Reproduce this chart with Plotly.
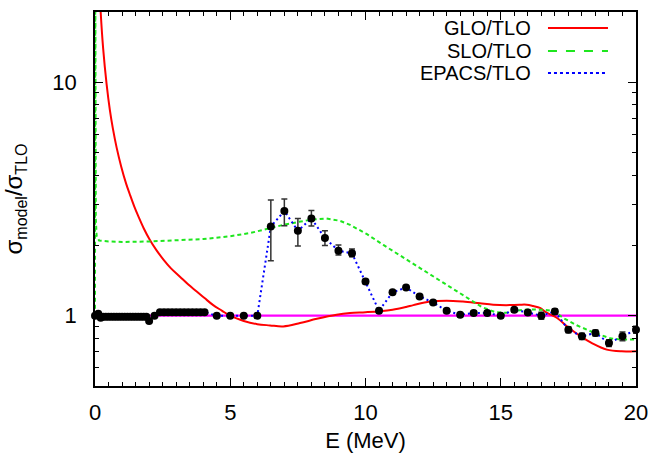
import math
import plotly.graph_objects as go

# ---------------- data ----------------
pts_E = [0.0, 0.12, 0.21, 0.3, 0.4, 0.5, 0.6, 0.7, 0.8, 0.9, 1.0, 1.1, 1.2, 1.3, 1.4, 1.5,
         1.6, 1.7, 1.8, 1.9, 2.0, 2.2, 2.4, 2.55, 2.7, 2.85, 3.0, 3.15, 3.3, 3.45, 3.6,
         3.75, 3.9, 4.05, 4.5, 5.0, 5.5, 6.0, 6.5, 7.0, 7.5, 8.0, 8.5, 9.0, 9.5, 10.0,
         10.5, 11.0, 11.5, 12.0, 12.5, 13.0, 13.5, 14.0, 14.5, 15.0, 15.5, 16.0, 16.5,
         17.0, 17.5, 18.0, 18.5, 19.0, 19.5, 20.0]
pts_R = [1.0, 1.02, 0.98, 0.99, 0.99, 0.99, 0.99, 0.99, 0.99, 0.99, 0.99, 0.99, 0.99, 0.99, 0.99, 0.99,
         0.99, 0.99, 0.99, 0.99, 0.95, 1.0, 1.035, 1.035, 1.035, 1.035, 1.035, 1.035, 1.035, 1.035, 1.035,
         1.035, 1.035, 1.035, 1.0, 1.0, 1.0, 1.0, 2.41, 2.81, 2.31, 2.61, 2.15, 1.90, 1.85, 1.40,
         1.05, 1.26, 1.32, 1.21, 1.14, 1.05, 1.01, 1.027, 1.027, 1.0, 1.06, 1.033, 1.0,
         1.043, 0.871, 0.816, 0.844, 0.764, 0.816, 0.871]
err_up = [0] * 38 + [0.72, 0.35, 0.30, 0.21, 0.16, 0.11, 0.08, 0.03,
                     0.02, 0.02, 0.02, 0.02, 0.02, 0.02, 0.02, 0.02, 0.02, 0.02, 0.02, 0.02, 0.035,
                     0.025, 0.025, 0.025, 0.025, 0.025, 0.035, 0.03]
err_dn = [0] * 38 + [0.69, 0.38, 0.32, 0.19, 0.15, 0.08, 0.06, 0.03,
                     0.02, 0.02, 0.02, 0.02, 0.02, 0.02, 0.02, 0.02, 0.02, 0.02, 0.02, 0.02, 0.035,
                     0.025, 0.025, 0.025, 0.025, 0.025, 0.035, 0.03]

glo_E = [0.15, 0.21, 0.3, 0.43, 0.55, 0.66, 0.8, 0.97, 1.15, 1.28, 1.45, 1.6, 1.8, 2.03,
         2.27, 2.53, 2.8, 3.14, 3.45, 3.76, 4.05, 4.37, 4.7, 4.99, 5.5, 6.0, 6.47, 6.96,
         7.58, 8.2, 8.93, 9.43, 10.0, 10.54, 11.0, 11.5, 11.77, 12.38, 13.0, 13.6, 14.23,
         14.72, 15.2, 15.7, 15.96, 16.2, 16.45, 16.7, 17.07, 17.5, 17.93, 18.4, 18.92,
         19.47, 20.0]
glo_R = [28.0, 20.0, 14.0, 9.8, 7.6, 6.35, 5.25, 4.35, 3.68, 3.33, 2.94, 2.67, 2.37, 2.11,
         1.91, 1.74, 1.6, 1.47, 1.36, 1.27, 1.19, 1.11, 1.05, 1.0, 0.95, 0.92, 0.909, 0.90,
         0.93, 0.97, 1.01, 1.027, 1.035, 1.045, 1.06, 1.09, 1.11, 1.15, 1.16, 1.15, 1.13,
         1.115, 1.11, 1.115, 1.115, 1.10, 1.08, 1.03, 0.98, 0.89, 0.82, 0.76, 0.716,
         0.704, 0.705]

slo_E = [0.0, 0.01, 0.03, 0.06, 0.15, 0.5, 1.0, 2.0, 3.0, 4.0, 5.0, 5.73, 6.47, 6.96, 7.5,
         8.0, 8.56, 9.06, 9.43, 10.04, 10.66, 11.28, 11.89, 12.5, 13.12, 13.74, 14.3, 14.8,
         15.2, 15.7, 16.1, 16.6, 16.94, 17.3, 17.81, 18.3, 18.55, 19.04, 19.5, 20.0]
slo_R = [1.0, 40.0, 2.6, 2.2, 2.1, 2.08, 2.07, 2.08, 2.1, 2.13, 2.19, 2.26, 2.37, 2.45, 2.52,
         2.58, 2.61, 2.55, 2.45, 2.24, 2.01, 1.81, 1.63, 1.47, 1.33, 1.20, 1.09, 1.035,
         1.03, 1.055, 1.065, 1.06, 1.05, 0.98, 0.91, 0.86, 0.84, 0.80, 0.79, 0.79]

tlo_E = [2.0, 20.0]
tlo_R = [1.0, 1.0]

legend_names = ["GLO/TLO", "SLO/TLO", "EPACS/TLO"]
x_ticks = [0, 5, 10, 15, 20]
y_ticks = [1, 10]
y_minor = [0.5, 0.6, 0.7, 0.8, 0.9, 2, 3, 4, 5, 6, 7, 8, 9, 20]

RED = "#ff0000"
GREEN = "#1ee61e"
BLUE = "#0000ff"
MAGENTA = "#ff00ff"

fig = go.Figure()
fig.add_trace(go.Scatter(x=tlo_E, y=tlo_R, mode="lines",
                         line=dict(color=MAGENTA, width=2.2), showlegend=False))
fig.add_trace(go.Scatter(x=glo_E, y=glo_R, mode="lines", line_shape="spline",
                         line=dict(color=RED, width=2), showlegend=False))
fig.add_trace(go.Scatter(x=slo_E, y=slo_R, mode="lines",
                         line=dict(color=GREEN, width=2, dash="4px,3px"), showlegend=False))
fig.add_trace(go.Scatter(x=pts_E, y=pts_R, mode="lines",
                         line=dict(color=BLUE, width=2, dash="2px,3px"), showlegend=False))
fig.add_trace(go.Scatter(x=pts_E, y=pts_R, mode="markers", cliponaxis=False,
                         marker=dict(color="black", size=8),
                         error_y=dict(type="data", array=err_up, arrayminus=err_dn,
                                      color="#333333", thickness=1.5, width=3),
                         showlegend=False))

# gnuplot-style key: text right-aligned, sample to the right
ys = [0.957, 0.896, 0.837]
styles = [dict(color=RED, width=2), dict(color=GREEN, width=2, dash="dash"),
          dict(color=BLUE, width=2, dash="dot")]
for name, yy, st in zip(legend_names, ys, styles):
    fig.add_annotation(x=0.8096, y=yy, xref="paper", yref="paper", text=name,
                       showarrow=False, xanchor="right", yanchor="middle",
                       font=dict(size=20, color="black"))
    fig.add_shape(type="line", xref="paper", yref="paper", x0=0.8373, x1=0.9482,
                  y0=yy, y1=yy, line=st)

axis_common = dict(showline=True, linecolor="black", linewidth=1.5, mirror="allticks",
                   ticks="inside", ticklen=8, tickwidth=1, tickcolor="black",
                   showgrid=False, zeroline=False, automargin=False,
                   tickfont=dict(size=22, color="black"))
fig.update_xaxes(range=[0, 20], tickvals=x_ticks, ticktext=[str(v) for v in x_ticks],
                 minor=dict(dtick=0.5, ticks="inside", ticklen=4, tickcolor="black", showgrid=False),
                 title=dict(text="E (MeV)", font=dict(size=22, color="black"), standoff=8),
                 ticklabelstandoff=6, **axis_common)
ytitle = ("σ<sub><span style='font-size:16px'>model</span></sub>/"
          "σ<sub><span style='font-size:16px'>TLO</span></sub>")
fig.update_yaxes(type="log", range=[math.log10(0.5), math.log10(20)], tickvals=y_ticks,
                 ticktext=[str(v) for v in y_ticks],
                 minor=dict(tickvals=y_minor, ticks="inside", ticklen=4, tickcolor="black", showgrid=False),
                 title=dict(text=ytitle, font=dict(size=24, color="black"), standoff=26),
                 ticklabelstandoff=12, **axis_common)

fig.update_layout(width=651, height=454, margin=dict(l=95, r=15, t=12, b=68, autoexpand=False),
                  paper_bgcolor="white", plot_bgcolor="white",
                  font=dict(family="Liberation Sans, Arial, sans-serif", color="black"),
                  showlegend=False)
fig.write_html("out.html")
